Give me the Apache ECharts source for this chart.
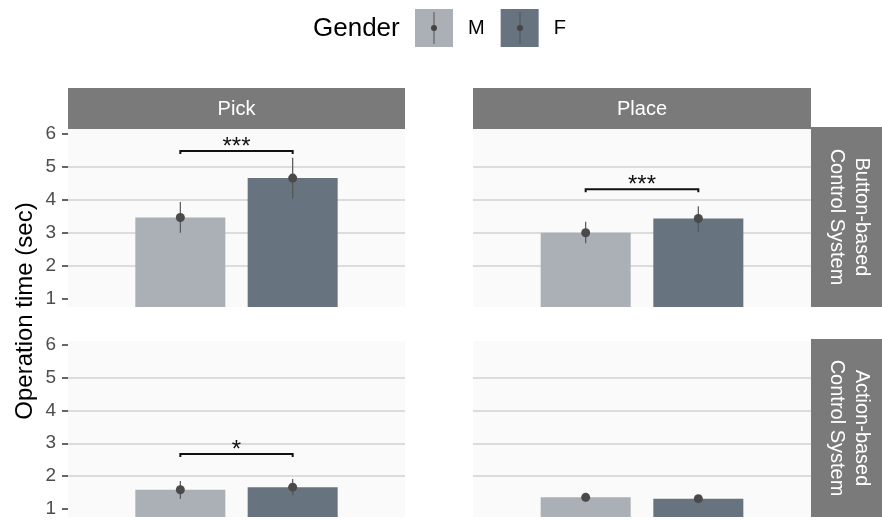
<!DOCTYPE html>
<html>
<head>
<meta charset="utf-8">
<script src="https://cdn.jsdelivr.net/npm/echarts@6/dist/echarts.min.js"></script>
<style>
  html, body { margin: 0; padding: 0; background: #ffffff; }
  #chart { width: 882px; height: 520px; }
</style>
</head>
<body>
<div id="chart"></div>
<script>
// Facets: columns are tasks, rows are control systems
const tasks = ['Pick', 'Place'];
const systems = ['Button-based\nControl System', 'Action-based\nControl System'];
const genders = ['M', 'F'];
const yTicks = [1, 2, 3, 4, 5, 6];

// Mean operation time (sec) per gender [M, F], with error-bar bounds
const buttonPickMean  = [3.46, 4.65];
const buttonPickLow   = [3.00, 4.03];
const buttonPickHigh  = [3.93, 5.26];

const buttonPlaceMean = [3.00, 3.43];
const buttonPlaceLow  = [2.68, 3.03];
const buttonPlaceHigh = [3.33, 3.80];

const actionPickMean  = [1.58, 1.66];
const actionPickLow   = [1.30, 1.41];
const actionPickHigh  = [1.85, 1.91];

const actionPlaceMean = [1.35, 1.31];
const actionPlaceLow  = [1.22, 1.20];
const actionPlaceHigh = [1.48, 1.42];

// Significance brackets per panel (height in sec, star label)
const bracketHeight = [5.47, 4.31, 2.67, null];
const bracketLabel  = ['***', '***', '*', ''];

// Panel order: button/pick, button/place, action/pick, action/place
const panelMean = [buttonPickMean, buttonPlaceMean, actionPickMean, actionPlaceMean];
const panelLow  = [buttonPickLow, buttonPlaceLow, actionPickLow, actionPlaceLow];
const panelHigh = [buttonPickHigh, buttonPlaceHigh, actionPickHigh, actionPlaceHigh];

const FONT = '"Liberation Sans", Arial, sans-serif';
const COLORS = { M: '#aab0b6', F: '#67737e' };
const STRIP = '#7a7a7a';

// Panel rectangles in pixels
const panelBoxes = [
  { left: 68,  top: 129, width: 337, height: 178, yMin: 0.76, yMax: 6.13 },
  { left: 473, top: 129, width: 338, height: 178, yMin: 0.76, yMax: 6.13 },
  { left: 68,  top: 341, width: 337, height: 176, yMin: 0.75, yMax: 6.12 },
  { left: 473, top: 341, width: 338, height: 176, yMin: 0.75, yMax: 6.12 }
];

const grids = [], xAxes = [], yAxes = [], series = [];

panelBoxes.forEach((b, i) => {
  const isLeft = i % 2 === 0;
  grids.push({
    left: b.left, top: b.top, width: b.width, height: b.height,
    show: true, backgroundColor: '#fafafa', borderWidth: 0, containLabel: false
  });
  xAxes.push({
    gridIndex: i, type: 'value', min: 0, max: 3, show: false
  });
  yAxes.push({
    gridIndex: i, type: 'value', min: b.yMin, max: b.yMax,
    axisLine: { show: false },
    axisTick: {
      show: isLeft, length: 6, customValues: yTicks,
      lineStyle: { color: '#333333', width: 1.5 }
    },
    axisLabel: {
      show: isLeft, customValues: yTicks, margin: 12,
      color: '#4d4d4d', fontSize: 19, fontFamily: FONT
    },
    splitLine: {
      show: true, showMinLine: false, showMaxLine: false,
      lineStyle: { color: '#dcdcdc', width: 1.8 }
    }
  });

  genders.forEach((g, k) => {
    series.push({
      name: g, type: 'bar', xAxisIndex: i, yAxisIndex: i,
      barWidth: 90, barGap: '-100%',
      itemStyle: { color: COLORS[g] },
      data: [[k + 1, panelMean[i][k]]],
      z: 2, silent: true
    });
  });

  // Error bars with mean points
  series.push({
    type: 'custom', xAxisIndex: i, yAxisIndex: i, z: 5, silent: true,
    data: genders.map((g, k) => [k + 1, panelLow[i][k], panelHigh[i][k], panelMean[i][k]]),
    renderItem: (params, api) => {
      const x = api.value(0);
      const lo = api.coord([x, api.value(1)]);
      const hi = api.coord([x, api.value(2)]);
      const m = api.coord([x, api.value(3)]);
      return {
        type: 'group',
        children: [
          { type: 'line', shape: { x1: lo[0], y1: lo[1], x2: hi[0], y2: hi[1] },
            style: { stroke: '#555555', lineWidth: 1.2 } },
          { type: 'circle', shape: { cx: m[0], cy: m[1], r: 4.5 },
            style: { fill: '#4a4a4a' } }
        ]
      };
    }
  });

  // Significance bracket between the two bars
  if (bracketHeight[i] !== null) {
    series.push({
      type: 'custom', xAxisIndex: i, yAxisIndex: i, z: 6, silent: true,
      data: [[1, 2, bracketHeight[i]]],
      renderItem: (params, api) => {
        const p1 = api.coord([api.value(0), api.value(2)]);
        const p2 = api.coord([api.value(1), api.value(2)]);
        const tip = 3;
        return {
          type: 'group',
          children: [
            { type: 'polyline',
              shape: { points: [[p1[0], p1[1] + tip], [p1[0], p1[1]], [p2[0], p2[1]], [p2[0], p2[1] + tip]] },
              style: { stroke: '#111111', lineWidth: 2, fill: null } },
            { type: 'text', x: (p1[0] + p2[0]) / 2, y: p1[1] + 8,
              style: { text: bracketLabel[i], fill: '#111111', fontSize: 24, fontFamily: FONT,
                       align: 'center', verticalAlign: 'bottom' } }
          ]
        };
      }
    });
  }
});

// Facet strips and decorations
const graphic = [];
tasks.forEach((t, c) => {
  const b = panelBoxes[c];
  graphic.push({
    type: 'rect', shape: { x: b.left, y: 88, width: b.width, height: 41 },
    style: { fill: STRIP }, silent: true
  });
  graphic.push({
    type: 'text', x: b.left + b.width / 2, y: 109,
    style: { text: t, fill: '#ffffff', fontSize: 20, fontFamily: FONT, align: 'center', verticalAlign: 'middle' },
    silent: true
  });
});
systems.forEach((s, r) => {
  const b = panelBoxes[r * 2 + 1];
  const top = b.top - 2;
  const h = b.height + 2;
  graphic.push({
    type: 'rect', shape: { x: 811, y: top, width: 80, height: h },
    style: { fill: STRIP }, silent: true
  });
  graphic.push({
    type: 'text', x: 849.5, y: top + h / 2, rotation: -Math.PI / 2,
    style: { text: s, fill: '#ffffff', fontSize: 20, lineHeight: 25, fontFamily: FONT,
             align: 'center', verticalAlign: 'middle' },
    silent: true
  });
});

// Y axis title
graphic.push({
  type: 'text', x: 25, y: 311, rotation: Math.PI / 2,
  style: { text: 'Operation time (sec)', fill: '#000000', fontSize: 24, fontFamily: FONT,
           align: 'center', verticalAlign: 'middle' },
  silent: true
});

// Legend title
graphic.push({
  type: 'text', x: 313, y: 29,
  style: { text: 'Gender', fill: '#000000', fontSize: 26, fontFamily: FONT, align: 'left', verticalAlign: 'middle' },
  silent: true
});

// Error-bar glyph inside each legend key
[434, 520].forEach(cx => {
  graphic.push({
    type: 'line', shape: { x1: cx, y1: 12, x2: cx, y2: 44 },
    style: { stroke: '#555555', lineWidth: 1 }, silent: true, z: 100
  });
  graphic.push({
    type: 'circle', shape: { cx: cx, cy: 28, r: 3 },
    style: { fill: '#444444' }, silent: true, z: 100
  });
});

const chart = echarts.init(document.getElementById('chart'), null, { renderer: 'canvas' });
chart.setOption({
  animation: false,
  backgroundColor: '#ffffff',
  textStyle: { fontFamily: FONT },
  legend: {
    data: genders, left: 415, top: 9, icon: 'rect', padding: 0,
    itemWidth: 38, itemHeight: 38, itemGap: 16,
    selectedMode: false,
    textStyle: { fontSize: 20, color: '#000000', fontFamily: FONT, padding: [0, 0, 0, 10] }
  },
  grid: grids,
  xAxis: xAxes,
  yAxis: yAxes,
  series: series,
  graphic: graphic
});
</script>
</body>
</html>
